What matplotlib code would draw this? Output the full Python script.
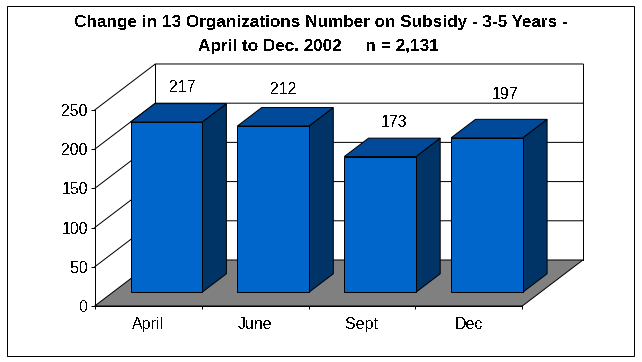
import matplotlib
matplotlib.use("Agg")
import matplotlib.pyplot as plt
from matplotlib.patches import Polygon, Rectangle

plt.rcParams['font.family'] = ['Liberation Sans', 'DejaVu Sans']
plt.rcParams['text.antialiased'] = False

categories = ["April", "June", "Sept", "Dec"]
values = [217, 212, 173, 197]
y_ticks = [0, 50, 100, 150, 200, 250]
title_1 = "Change in 13 Organizations Number on Subsidy - 3-5 Years -"
title_2 = "April to Dec. 2002     n = 2,131"

# 3d look: depth runs up and to the right, in data units of the front plane
DX = 0.567
DY = 58.7
BAR_GAP = 0.165
D_FRONT = 0.3
D_BACK = 0.7
LW = 0.72
FRONT, TOP, SIDE, FLOOR = "#0066CC", "#004A99", "#003366", "#808080"
# label offsets off the bar's front top centre, px
LABEL_DX = [16, 10, 14, 18]
LABEL_DY = [35, 36, 34, 43]


def sk(x, y, d):
    return (x + d * DX, y + d * DY)


def poly(ax, pts, color, z):
    ax.add_patch(Polygon(pts, closed=True, facecolor=color, edgecolor="black",
                         linewidth=LW, zorder=z, clip_on=False))


def line(ax, pts, z=1):
    xs, ys = zip(*pts)
    ax.plot(xs, ys, color="black", lw=LW, zorder=z, clip_on=False)


fig = plt.figure(figsize=(6.42, 3.62), dpi=100)
fig.add_artist(Rectangle((6.5 / 642, 1 - 355.5 / 362), 627 / 642, 349.5 / 362,
                         transform=fig.transFigure, fill=False, edgecolor="black",
                         linewidth=LW))

ax = fig.add_axes([94.7 / 642, 1 - 306 / 362, 427.6 / 642, 196 / 362])
ax.set_xlim(0, len(categories))
ax.set_ylim(0, 250)
ax.patch.set_visible(False)
for s in ["top", "right"]:
    ax.spines[s].set_visible(False)
for s in ["left", "bottom"]:
    ax.spines[s].set_linewidth(LW)
    ax.spines[s].set_zorder(6)

n = len(categories)
# walls and gridlines
for v in y_ticks[1:]:
    line(ax, [sk(0, v, 0), sk(0, v, 1), sk(n, v, 1)])
line(ax, [sk(0, 0, 1), sk(0, 250, 1)])
line(ax, [sk(n, 0, 1), sk(n, 250, 1)])

# floor
poly(ax, [sk(0, 0, 0), sk(n, 0, 0), sk(n, 0, 1), sk(0, 0, 1)], FLOOR, 2)

# bars
for i, v in enumerate(values):
    x0, x1 = i + BAR_GAP, i + 1 - BAR_GAP
    poly(ax, [sk(x1, 0, D_FRONT), sk(x1, 0, D_BACK), sk(x1, v, D_BACK), sk(x1, v, D_FRONT)], SIDE, 3)
    poly(ax, [sk(x0, v, D_FRONT), sk(x1, v, D_FRONT), sk(x1, v, D_BACK), sk(x0, v, D_BACK)], TOP, 3)
    poly(ax, [sk(x0, 0, D_FRONT), sk(x1, 0, D_FRONT), sk(x1, v, D_FRONT), sk(x0, v, D_FRONT)], FRONT, 4)
    cx, cy = sk((x0 + x1) / 2, v, D_FRONT)
    ax.annotate(str(v), (cx, cy), xytext=(LABEL_DX[i] * 0.72, LABEL_DY[i] * 0.72),
                textcoords="offset points", ha="center", va="center",
                fontsize=11.5, annotation_clip=False, zorder=7)

ax.set_yticks(y_ticks)
ax.tick_params(axis="y", length=2.8, width=LW, pad=2, labelsize=11.5)
ax.set_xticks(range(n + 1))
ax.set_xticklabels([])
ax.tick_params(axis="x", which="major", length=2.5, width=LW)
ax.set_xticks([i + 0.5 for i in range(n)], minor=True)
ax.set_xticklabels(categories, minor=True, fontsize=11.5)
ax.tick_params(axis="x", which="minor", length=0, pad=8)

fig.text(320.5 / 642, 1 - 23 / 362, title_1, ha="center", va="center",
         fontsize=12.3, fontweight="bold")
fig.text(318 / 642, 1 - 46 / 362, title_2, ha="center", va="center",
         fontsize=12.3, fontweight="bold")

fig.savefig("out.png", dpi=100)
